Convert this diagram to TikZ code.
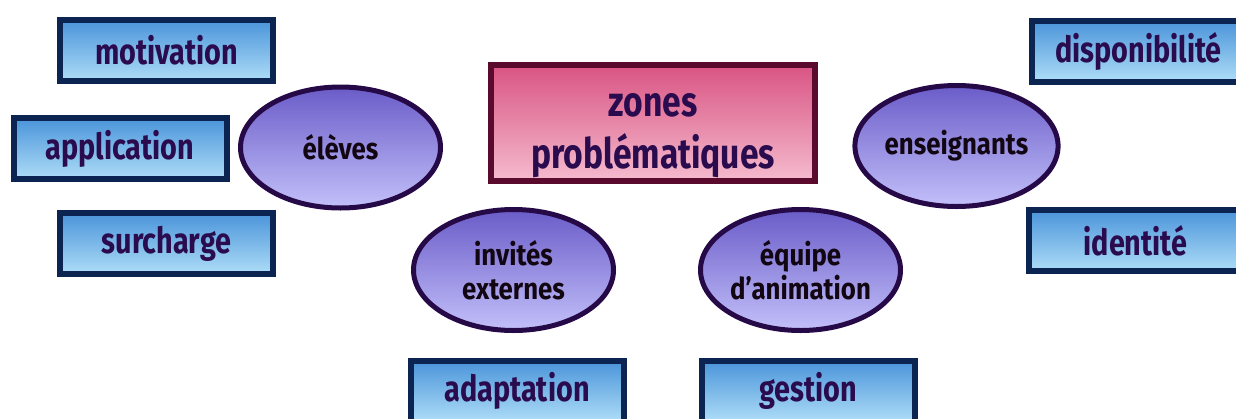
\documentclass[tikz,border=0pt]{standalone}
\usepackage{fontspec}
\newfontfamily\hand{Fira Sans}[FakeStretch=0.8]
\newfontfamily\handw{Fira Sans}[FakeStretch=0.86]
\usetikzlibrary{shapes.geometric}
\definecolor{rtop}{HTML}{4A94DA}
\definecolor{rbot}{HTML}{AEDDF7}
\definecolor{rborder}{HTML}{0B2452}
\definecolor{rtext}{HTML}{2A0B4E}
\definecolor{etop}{HTML}{6A5CC8}
\definecolor{ebot}{HTML}{C3C0FA}
\definecolor{eborder}{HTML}{260A48}
\definecolor{etext}{HTML}{120612}
\definecolor{ztop}{HTML}{D95483}
\definecolor{zbot}{HTML}{F5BBCE}
\definecolor{zborder}{HTML}{5A0A2C}
\tikzset{
  bluebox/.style={rectangle, draw=rborder, line width=6pt, top color=rtop, bottom color=rbot,
    minimum width=213pt, minimum height=61pt, inner sep=0pt, text=rtext,
    font=\hand\bfseries\fontsize{36}{38}\selectfont},
  oval/.style={ellipse, draw=eborder, line width=5pt, top color=etop, bottom color=ebot,
    minimum width=200pt, minimum height=121pt, inner sep=0pt, text=etext, align=center,
    font=\handw\bfseries\fontsize{30}{34}\selectfont},
  mainbox/.style={rectangle, draw=zborder, line width=6pt, top color=ztop, bottom color=zbot,
    minimum width=324pt, minimum height=116pt, inner sep=0pt, text=rtext, align=center,
    font=\hand\bfseries\fontsize{42}{48}\selectfont}
}
\begin{document}
\begin{tikzpicture}[x=1pt,y=-1pt]
\useasboundingbox (0,0) rectangle (1236,418);
\node[bluebox] (motivation) at (166.5,50.5) {motivation};
\node[bluebox] (application) at (120,148.5) {application};
\node[bluebox] (surcharge) at (166.5,243.5) {surcharge};
\node[bluebox] (disponibilite) at (1138.5,51) {disponibilité};
\node[bluebox] (identite) at (1135.5,240.5) {identité};
\node[bluebox] (adaptation) at (517,391) {adaptation};
\node[bluebox] (gestion) at (808,391) {gestion};
\node[mainbox] (zones) at (653,123) {\raisebox{-16pt}[0pt][0pt]{\begin{tabular}{@{}c@{}}zones\\[3pt]problématiques\end{tabular}}};
\node[oval] (eleves) at (340.5,147.5) {élèves};
\node[oval] (invites) at (513.5,270) {invités\\externes};
\node[oval] (equipe) at (800.5,270) {équipe\\d’animation};
\node[oval] (enseignants) at (956.5,146) {enseignants};
\end{tikzpicture}
\end{document}
